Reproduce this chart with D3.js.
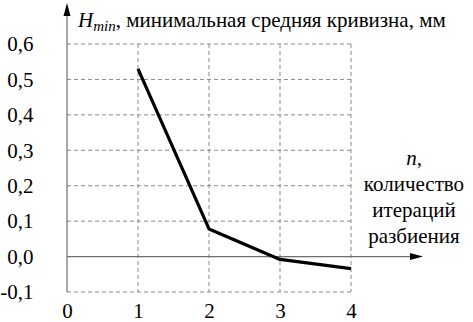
<html>
<meta charset="utf-8"></meta>
<script src="https://cdn.jsdelivr.net/npm/d3@7"></script>
<body style="margin:0">
<svg id="chart" width="473" height="322"></svg>
<script>
var iterations = [1, 2, 3, 4];
var curvature = [0.53, 0.078, -0.008, -0.034];
var xTicks = [0, 1, 2, 3, 4];
var yTicks = [-0.1, 0, 0.1, 0.2, 0.3, 0.4, 0.5, 0.6];
var yTitle = "минимальная средняя кривизна, мм";
var xTitle = ["количество", "итераций", "разбиения"];

var serif = "'Liberation Serif'";
var svg = d3.select("#chart");
var x = d3.scaleLinear().domain([0, 4]).range([67, 351]);
var y = d3.scaleLinear().domain([-0.1, 0.6]).range([292, 44]);
var fmt = function(d){ return d3.format(".1f")(d).replace(".", ",").replace("−", "-"); };

// tick labels first
var ay = svg.append("g").attr("transform", "translate(33.5,0)")
	.call(d3.axisLeft(y).tickValues(yTicks).tickFormat(fmt).tickSize(0).tickPadding(0));
ay.attr("font-family", "Liberation Serif").attr("font-size", 21);
ay.select(".domain").remove();
ay.selectAll("text").attr("dy", "0.32em").attr("fill", "#000");

var ax = svg.append("g").attr("transform", "translate(0,318)")
	.call(d3.axisBottom(x).tickValues(xTicks).tickFormat(d3.format("d")).tickSize(0).tickPadding(0));
ax.attr("font-family", "Liberation Serif").attr("font-size", 21);
ax.select(".domain").remove();
ax.selectAll("text").attr("dy", 0).attr("fill", "#000");

// grid
var grid = svg.append("g");
grid.selectAll("line.h").data(yTicks.filter(function(d){ return d != 0; })).enter().append("line")
	.attr("x1", x(0)).attr("x2", x(4))
	.attr("y1", function(d){ return y(d); }).attr("y2", function(d){ return y(d); })
	.attr("stroke", "#8a8a8a").attr("stroke-width", 1).attr("stroke-dasharray", "4,3");
grid.selectAll("line.v").data(xTicks.filter(function(d){ return d != 0; })).enter().append("line")
	.attr("x1", function(d){ return x(d); }).attr("x2", function(d){ return x(d); })
	.attr("y1", y(0.6)).attr("y2", y(-0.1))
	.attr("stroke", "#8a8a8a").attr("stroke-width", 1).attr("stroke-dasharray", "4,3");

// axis lines with arrows
svg.append("line").attr("x1", x(0)).attr("x2", x(0)).attr("y1", y(-0.1)).attr("y2", 10)
	.attr("stroke", "#6e6e6e").attr("stroke-width", 1.2);
svg.append("path").attr("d", "M" + x(0) + ",3 L" + (x(0) - 3.5) + ",16 L" + (x(0) + 3.5) + ",16 Z").attr("fill", "#000");
svg.append("line").attr("x1", x(0)).attr("x2", 412).attr("y1", y(0)).attr("y2", y(0))
	.attr("stroke", "#6e6e6e").attr("stroke-width", 1.2);
svg.append("path").attr("d", "M423," + y(0) + " L410," + (y(0) - 3.5) + " L410," + (y(0) + 3.5) + " Z").attr("fill", "#000");

// data line
var line = d3.line().x(function(d, i){ return x(iterations[i]); }).y(function(d){ return y(d); });
svg.append("path").datum(curvature).attr("d", line)
	.attr("fill", "none").attr("stroke", "#000").attr("stroke-width", 3.2).attr("stroke-linejoin", "round");

// y title
var t = svg.append("text").attr("x", 78).attr("y", 27).attr("font-size", 21)
	.style("font-family", serif);
t.append("tspan").style("font-style", "italic").text("H");
t.append("tspan").style("font-style", "italic").attr("font-size", 15).attr("dy", 4).text("min");
t.append("tspan").attr("dy", -4).text(", " + yTitle);

// x title
svg.append("text").attr("x", 414).attr("y", 165).attr("text-anchor", "middle").attr("font-size", 21)
	.style("font-family", serif).style("font-style", "italic").text("n,");
xTitle.forEach(function(s, i){
	svg.append("text").attr("x", 414).attr("y", 191 + i * 26).attr("text-anchor", "middle").attr("font-size", 21)
		.style("font-family", serif).text(s);
});
</script>
</body>
</html>
